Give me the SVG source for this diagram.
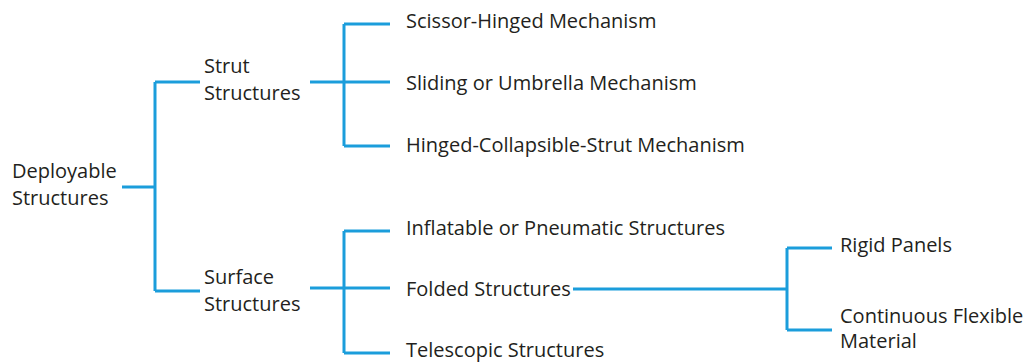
<svg xmlns="http://www.w3.org/2000/svg" width="1029" height="363" viewBox="0 0 1029 363">
  <style>
    .lbl { font-family: "Open Sans", "Liberation Sans", sans-serif; font-size: 20px; fill: #231f20; }
    .wire { fill: none; stroke: #1b9ddb; stroke-width: 3; }
  </style>
  <rect width="1029" height="363" fill="#ffffff"/>

  <g id="connectors">
    <!-- root bracket -->
    <path class="wire" d="M122 187 H155 M155 82 V291 M155 82 H200 M155 291 H200"/>
    <!-- strut bracket -->
    <path class="wire" d="M310 82 H344 M344 24 V146 M344 24 H390 M344 82 H390 M344 146 H390"/>
    <!-- surface bracket -->
    <path class="wire" d="M310 288 H344 M344 231 V353 M344 231 H390 M344 288 H390 M344 353 H390"/>
    <!-- folded bracket -->
    <path class="wire" d="M573 289 H787 M787 248 V330 M787 248 H832 M787 330 H832"/>
  </g>

  <g id="deployable"><text class="lbl" x="12" y="178">Deployable</text><text class="lbl" x="12" y="205">Structures</text></g>
  <g id="strut"><text class="lbl" x="204" y="73">Strut</text><text class="lbl" x="204" y="100">Structures</text></g>
  <g id="surface"><text class="lbl" x="204" y="284">Surface</text><text class="lbl" x="204" y="311">Structures</text></g>

  <g id="scissor"><text class="lbl" x="406" y="28">Scissor-Hinged Mechanism</text></g>
  <g id="sliding"><text class="lbl" x="406" y="90">Sliding or Umbrella Mechanism</text></g>
  <g id="hinged"><text class="lbl" x="406" y="152">Hinged-Collapsible-Strut Mechanism</text></g>

  <g id="inflatable"><text class="lbl" x="406" y="235">Inflatable or Pneumatic Structures</text></g>
  <g id="folded"><text class="lbl" x="406" y="296">Folded Structures</text></g>
  <g id="telescopic"><text class="lbl" x="406" y="357">Telescopic Structures</text></g>

  <g id="rigid"><text class="lbl" x="840" y="252">Rigid Panels</text></g>
  <g id="flexible"><text class="lbl" x="840" y="323">Continuous Flexible</text><text class="lbl" x="840" y="348">Material</text></g>
</svg>
